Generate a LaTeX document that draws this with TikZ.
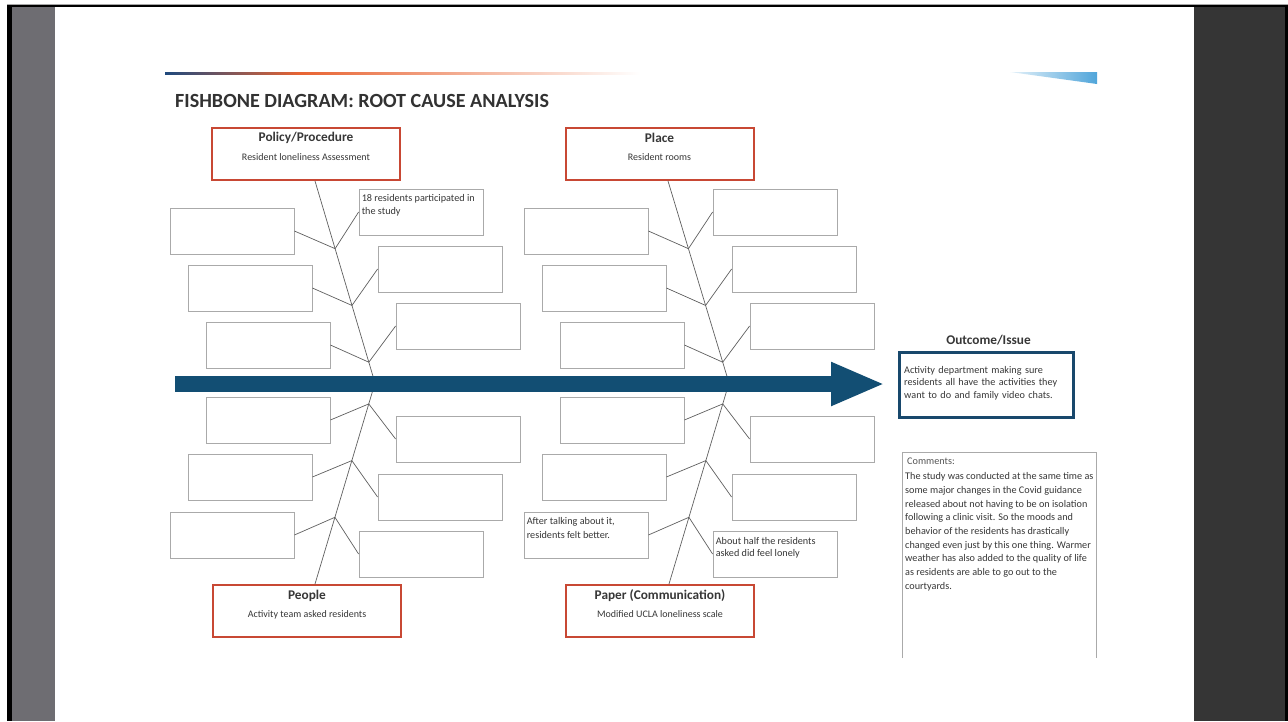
\documentclass[tikz,border=0pt]{standalone}
\usepackage{fontspec}
\setmainfont{Carlito}
\usetikzlibrary{calc,arrows.meta}
\definecolor{redbox}{RGB}{200,72,52}
\definecolor{boxgray}{RGB}{170,170,170}
\definecolor{bonegray}{RGB}{95,95,95}
\definecolor{txt}{RGB}{55,55,55}
\definecolor{titlecol}{RGB}{50,50,50}
\definecolor{arrowblue}{RGB}{18,78,115}
\definecolor{outblue}{RGB}{24,72,108}
\definecolor{leftgray}{RGB}{110,109,114}
\definecolor{rightgray}{RGB}{53,53,53}
\definecolor{decoblue}{RGB}{31,73,125}
\definecolor{decoorange}{RGB}{232,100,50}
\definecolor{skyblue}{RGB}{80,165,218}
\tikzset{
  gbox/.style={draw=boxgray, line width=0.8pt, minimum width=124pt, minimum height=46pt, inner sep=0pt},
  rbox/.style={draw=redbox, line width=2pt, minimum width=188pt, minimum height=52pt, inner sep=0pt},
  btitle/.style={font=\bfseries\fontsize{13.3}{15}\selectfont, text=txt, inner sep=0pt},
  bsub/.style={font=\fontsize{10}{12}\selectfont, text=txt, inner sep=0pt},
  btext/.style={font=\fontsize{10.2}{13.5}\selectfont, text=txt, inner sep=0pt, align=left, anchor=north west},
  bone/.style={draw=bonegray, line width=0.7pt},
}
\begin{document}
\begin{tikzpicture}[x=1pt,y=-1pt]
\useasboundingbox (0,0) rectangle (1288,721);
% page frame
\fill[white] (0,0) rectangle (1288,721);
\fill[black] (7,4.5) rectangle (1288,721);
\draw[gray!70, line width=1pt] (7,4.5) -- (1288,4.5);
\fill[leftgray] (12,7) rectangle (55,721);
\fill[white] (55,7) rectangle (1194,721);
\fill[rightgray] (1194,7) rectangle (1285,721);
% decorative top bands
\shade[left color=decoblue, right color=decoorange] (165,72) rectangle (300,74);
\shade[left color=decoorange, right color=white] (300,72) rectangle (640,74);
\shade[left color=skyblue!15, right color=skyblue] (1010,72) -- (1097,72) -- (1097,84) -- cycle;
% title
\node[anchor=base west, font=\bfseries\fontsize{20.1}{22}\selectfont, text=titlecol, inner sep=0pt] (title) at (175,107) {FISHBONE DIAGRAM: ROOT CAUSE ANALYSIS};
% red category boxes
\node[rbox] (pol) at (306,154) {};
\node[rbox] (pla) at (659.5,154) {};
\node[rbox] (peo) at (307,611) {};
\node[rbox] (pap) at (660,611) {};
\node[btitle] (polT) at ($(pol.north)+(0,11)$) {Policy/Procedure};
\node[bsub] (polS) at ($(pol.north)+(0,30)$) {Resident loneliness Assessment};
\node[btitle] (plaT) at ($(pla.north)+(0,11)$) {Place};
\node[bsub] (plaS) at ($(pla.north)+(0,30)$) {Resident rooms};
\node[btitle] (peoT) at ($(peo.north)+(0,12)$) {People};
\node[bsub] (peoS) at ($(peo.north)+(0,30.5)$) {Activity team asked residents};
\node[btitle] (papT) at ($(pap.north)+(0,12)$) {Paper (Communication)};
\node[bsub] (papS) at ($(pap.north)+(0,30.5)$) {Modified UCLA loneliness scale};
% gray cause boxes
\foreach \n/\x/\y in {pL1/232/231, pL2/250/288, pL3/268/345, pR1/421/212, pR2/440/269, pR3/458/326,
                      pL4/268/420, pL5/250/477, pL6/232/535, pR4/458/439, pR5/440/497, pR6/421/554,
                      qL1/586/231, qL2/604/288, qL3/622/345, qR1/775/212, qR2/794/269, qR3/812/326,
                      qL4/622/420, qL5/604/477, qL6/586/535, qR4/812/439, qR5/794/497, qR6/775/554}
  \node[gbox] (\n) at (\x,\y) {};
\node[btext] (t1) at ($(pR1.north west)+(3,5.5)$) {18 residents participated in\\the study};
\node[btext] (t2) at ($(qL6.north west)+(3,6)$) {After talking about it,\\residents felt better.};
\node[btext, font=\fontsize{10.2}{12.5}\selectfont] (t3) at ($(qR6.north west)+(3,6.5)$) {About half the residents\\asked did feel lonely};
% left bones
\coordinate (tl) at ($(pol.south)+(9,0)$);
\coordinate (cl) at (375,383);
\coordinate (bl) at ($(peo.north)+(8,0)$);
\coordinate (pb1) at ($(tl)!0.335!(cl)$);
\coordinate (pb2) at ($(tl)!0.616!(cl)$);
\coordinate (pb3) at ($(tl)!0.897!(cl)$);
\coordinate (pb4) at ($(cl)!0.104!(bl)$);
\coordinate (pb5) at ($(cl)!0.386!(bl)$);
\coordinate (pb6) at ($(cl)!0.668!(bl)$);
\draw[bone] (tl) -- (cl) -- (bl);
\draw[bone] (pL1.east) -- (pb1) -- (pR1.west);
\draw[bone] (pL2.east) -- (pb2) -- (pR2.west);
\draw[bone] (pL3.east) -- (pb3) -- (pR3.west);
\draw[bone] (pL4.east) -- (pb4) -- (pR4.west);
\draw[bone] (pL5.east) -- (pb5) -- (pR5.west);
\draw[bone] (pL6.east) -- (pb6) -- (pR6.west);
% right bones
\coordinate (tr) at ($(pla.south)+(8.5,0)$);
\coordinate (cr) at (729,383);
\coordinate (br) at ($(pap.north)+(9,0)$);
\coordinate (qb1) at ($(tr)!0.335!(cr)$);
\coordinate (qb2) at ($(tr)!0.616!(cr)$);
\coordinate (qb3) at ($(tr)!0.897!(cr)$);
\coordinate (qb4) at ($(cr)!0.104!(br)$);
\coordinate (qb5) at ($(cr)!0.386!(br)$);
\coordinate (qb6) at ($(cr)!0.668!(br)$);
\draw[bone] (tr) -- (cr) -- (br);
\draw[bone] (qL1.east) -- (qb1) -- (qR1.west);
\draw[bone] (qL2.east) -- (qb2) -- (qR2.west);
\draw[bone] (qL3.east) -- (qb3) -- (qR3.west);
\draw[bone] (qL4.east) -- (qb4) -- (qR4.west);
\draw[bone] (qL5.east) -- (qb5) -- (qR5.west);
\draw[bone] (qL6.east) -- (qb6) -- (qR6.west);
% main arrow
\coordinate (arrS) at (175,384);
\coordinate (arrE) at (885,384);
\draw[arrowblue, line width=16pt, -{Triangle[length=54pt,width=40pt]}] (arrS) -- (arrE);
% outcome
\node[btitle] (outT) at (988.5,340.5) {Outcome/Issue};
\node[draw=outblue, line width=3pt, minimum width=174pt, minimum height=65pt, inner sep=0pt] (out) at (986,384.5) {};
\node[btext, text width=170pt, font=\fontsize{10.2}{12.4}\selectfont] (outX) at (904,366) {Activity department making sure\\residents all have the activities they\\want to do and family video chats.};
% comments
\coordinate (cmA) at (902,658);
\coordinate (cmB) at (902,452.5);
\coordinate (cmC) at (1096,452.5);
\coordinate (cmD) at (1096,658);
\draw[boxgray, line width=1pt] (cmA) -- (cmB) -- (cmC) -- (cmD);
\node[btext, text=txt!85] (cmT) at (907,458) {Comments:};
\node[btext, font=\fontsize{10.2}{13.7}\selectfont] (cmX) at (905,472.5) {The study was conducted at the same time as\\some major changes in the Covid guidance\\released about not having to be on isolation\\following a clinic visit. So the moods and\\behavior of the residents has drastically\\changed even just by this one thing. Warmer\\weather has also added to the quality of life\\as residents are able to go out to the\\courtyards.};
\end{tikzpicture}
\end{document}
